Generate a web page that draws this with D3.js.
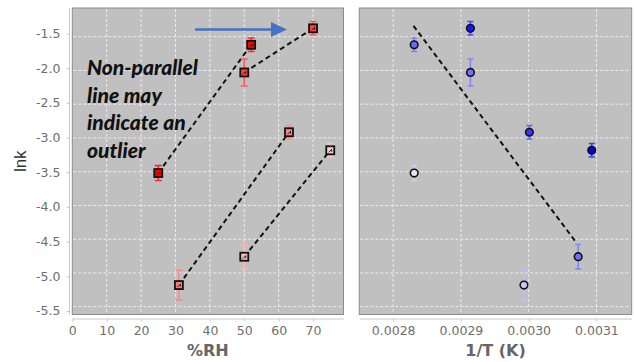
<!doctype html>
<html>
<head>
  <meta charset="utf-8">
  <title>lnk vs %RH and 1/T</title>
  <script src="https://d3js.org/d3.v7.min.js"></script>
  <style>
    body { margin: 0; background: #fff; }
    svg { display: block; }
    .tick text { font-family: 'DejaVu Sans', sans-serif; font-size: 12.5px; fill: #6e6e6e; }
    .axis path, .axis line { stroke: #c8c8c8; }
    .note { font-family: Lato, sans-serif; font-weight: 900; font-style: italic; font-size: 21px; fill: #111; }
  </style>
</head>
<body>
<svg width="634" height="362"></svg>
<script>
  // one entry per measurement (same points shown in both panels)
  var rh     = [25, 52, 50, 70, 31, 63, 50, 75];
  var invT   = [0.002831, 0.002831, 0.002914, 0.002914, 0.002993, 0.003001, 0.003073, 0.003093];
  var lnk    = [-3.52, -1.62, -2.03, -1.376, -5.18, -2.916, -4.76, -3.183];
  var lnkErr = [0.11, 0.1, 0.2, 0.1, 0.22, 0.1, 0.18, 0.1];

  // iso-temperature lines (index pairs into the arrays above)
  var isoPairs = [[0, 1], [2, 3], [4, 5], [6, 7]];

  // Arrhenius fit line in right panel
  var fitInvT = [0.00283, 0.003071];
  var fitLnk  = [-1.34, -4.56];

  var rhTicks   = [0, 10, 20, 30, 40, 50, 60, 70];
  var invTTicks = [0.0028, 0.0029, 0.0030, 0.0031];
  var lnkTicks  = [-1.5, -2.0, -2.5, -3.0, -3.5, -4.0, -4.5, -5.0, -5.5];

  var svg = d3.select("svg");
  var plotTop = 8, plotBottom = 314.5;

  var y = d3.scaleLinear().domain([-1.075, -5.616]).range([plotTop, plotBottom]);
  // tick labels in the source sit slightly spread relative to the grid
  var yLab = d3.scaleLinear().domain(y.domain()).range([4, 319]);
  var xL = d3.scaleLinear().domain([0, 78.85]).range([72.3, 343.5]);
  var xR = d3.scaleLinear().domain([0.00275, 0.003152]).range([359.3, 631.7]);

  var redFill = d3.scaleLinear().domain([0.002831, 0.003093]).range(["#ff0000", "#f4cccc"]);
  var redBar  = d3.scaleLinear().domain([0.002831, 0.003093]).range(["#ff2a2a", "#f6c4c4"]);
  var blueFill = d3.scaleLinear().domain([25, 75]).range(["#e4e4fa", "#0000f4"]);
  var blueBar  = d3.scaleLinear().domain([25, 75]).range(["#d0d0f4", "#3a3aff"]);

  function panel(x, xTicks, fmt) {
    var r = x.range();
    var g = svg.append("g");
    g.append("rect")
      .attr("x", r[0]).attr("y", plotTop)
      .attr("width", r[1] - r[0]).attr("height", plotBottom - plotTop)
      .attr("fill", "#c0c0c0").attr("stroke", "#8c8c8c").attr("stroke-width", 1);
    g.selectAll(".vg").data(xTicks.filter(d => x(d) > r[0] + 1)).enter().append("line")
      .attr("x1", d => x(d)).attr("x2", d => x(d))
      .attr("y1", plotTop + 1).attr("y2", plotBottom - 1)
      .attr("stroke", "#ececec").attr("stroke-dasharray", "3,2");
    g.selectAll(".hg").data(lnkTicks).enter().append("line")
      .attr("x1", r[0] + 1).attr("x2", r[1] - 1)
      .attr("y1", d => y(d)).attr("y2", d => y(d))
      .attr("stroke", "#ececec").attr("stroke-dasharray", "3,2");
    svg.append("g").attr("class", "axis")
      .attr("transform", "translate(0," + (plotBottom + 4) + ")")
      .call(d3.axisBottom(x).tickValues(xTicks).tickSize(3).tickSizeOuter(0).tickPadding(5).tickFormat(fmt));
  }

  panel(xL, rhTicks, d => d);
  panel(xR, invTTicks, d => d.toFixed(4));

  var yAxis = svg.append("g").attr("class", "axis")
    .attr("transform", "translate(69.5,0)")
    .call(d3.axisLeft(yLab).tickValues(lnkTicks).tickSize(3).tickSizeOuter(0).tickPadding(6).tickFormat(d => d.toFixed(1)));
  yAxis.select(".domain").attr("d", "M-0," + plotTop + "V" + plotBottom);

  var idx = d3.range(rh.length);
  var dash = "5,3.5";

  // left panel: lines, error bars, squares
  svg.selectAll(".iso").data(isoPairs).enter().append("line")
    .attr("x1", p => xL(rh[p[0]])).attr("y1", p => y(lnk[p[0]]))
    .attr("x2", p => xL(rh[p[1]])).attr("y2", p => y(lnk[p[1]]))
    .attr("stroke", "#111").attr("stroke-width", 2).attr("stroke-dasharray", dash);

  function errBars(x, xv, col, cap) {
    var g = svg.append("g");
    idx.forEach(function (i) {
      var cx = x(xv[i]), y1 = y(lnk[i] + lnkErr[i]), y2 = y(lnk[i] - lnkErr[i]);
      g.append("path")
        .attr("d", "M" + cx + "," + y1 + "V" + y2 + "M" + (cx - cap) + "," + y1 + "h" + 2 * cap + "M" + (cx - cap) + "," + y2 + "h" + 2 * cap)
        .attr("stroke", col(i)).attr("stroke-width", 1.6).attr("fill", "none");
    });
  }

  errBars(xL, rh, i => redBar(invT[i]), 3.5);

  var sq = svg.selectAll(".sq").data(idx).enter().append("g")
    .attr("transform", i => "translate(" + xL(rh[i]) + "," + y(lnk[i]) + ")");
  sq.append("rect")
    .attr("x", -4).attr("y", -4).attr("width", 8).attr("height", 8)
    .attr("fill", i => redFill(invT[i])).attr("stroke", "#111").attr("stroke-width", 1.8);
  sq.append("path")
    .attr("d", "M-1.5,2 L1.5,-1 V1.5")
    .attr("stroke", "#222").attr("stroke-width", 1).attr("fill", "none");

  // right panel: fit line, error bars, circles
  svg.append("line")
    .attr("x1", xR(fitInvT[0])).attr("y1", y(fitLnk[0]))
    .attr("x2", xR(fitInvT[1])).attr("y2", y(fitLnk[1]))
    .attr("stroke", "#111").attr("stroke-width", 2).attr("stroke-dasharray", dash);

  errBars(xR, invT, i => blueBar(rh[i]), 3);

  svg.selectAll(".dot").data(idx).enter().append("circle")
    .attr("cx", i => xR(invT[i])).attr("cy", i => y(lnk[i]))
    .attr("r", 3.8)
    .attr("fill", i => blueFill(rh[i])).attr("stroke", "#111").attr("stroke-width", 1.6);

  // annotation arrow and note
  svg.append("line")
    .attr("x1", 195).attr("y1", 29.5).attr("x2", 273).attr("y2", 29.5)
    .attr("stroke", "#4472c4").attr("stroke-width", 2.6);
  svg.append("path")
    .attr("d", "M271,22 L287,29.5 L271,37 Z").attr("fill", "#4472c4");

  var note = ["Non-parallel", "line may", "indicate an", "outlier"];
  svg.selectAll(".note").data(note).enter().append("text")
    .attr("class", "note")
    .attr("x", 87).attr("y", (d, i) => 75 + i * 27.6)
    .text(d => d);

  // axis titles
  svg.append("text")
    .attr("transform", "translate(26," + ((plotTop + plotBottom) / 2) + ") rotate(-90)")
    .attr("text-anchor", "middle")
    .style("font-family", "'Liberation Sans', Arial, sans-serif").style("font-size", "17px").style("fill", "#333")
    .text("lnk");
  svg.append("text")
    .attr("x", (xL.range()[0] + xL.range()[1]) / 2).attr("y", 356)
    .attr("text-anchor", "middle")
    .style("font-family", "'DejaVu Sans', sans-serif").style("font-size", "16px").style("font-weight", "bold").style("fill", "#666")
    .text("%RH");
  svg.append("text")
    .attr("x", (xR.range()[0] + xR.range()[1]) / 2).attr("y", 356)
    .attr("text-anchor", "middle")
    .style("font-family", "'DejaVu Sans', sans-serif").style("font-size", "16px").style("font-weight", "bold").style("fill", "#666")
    .text("1/T (K)");
</script>
</body>
</html>
